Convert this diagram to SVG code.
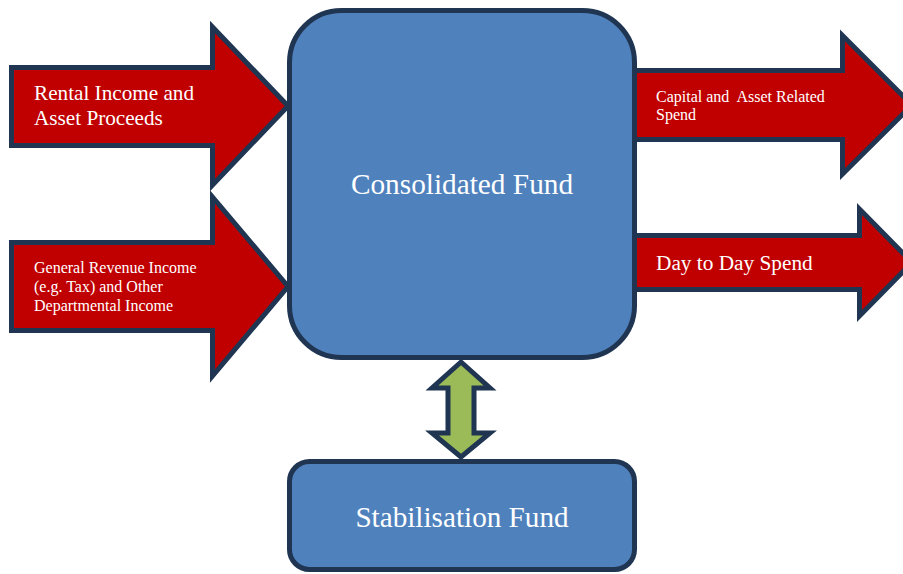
<svg xmlns="http://www.w3.org/2000/svg" width="903" height="574" viewBox="0 0 903 574">
<style>
.arrow{fill:#c00000;stroke:#1f3552;stroke-width:5;stroke-linejoin:miter}
.box{fill:#4f81bd;stroke:#1f3552;stroke-width:5}
.dbl{fill:#9bbb59;stroke:#1f3552;stroke-width:5;stroke-linejoin:miter}
text{font-family:"Liberation Serif","Times New Roman",serif;fill:#ffffff}
</style>
<rect width="903" height="574" fill="#ffffff"/>
<g id="connectors">
<g id="arrow-rental">
<path class="arrow" d="M11.5,67.5 L212.5,67.5 L212.5,27 L288,106 L212.5,185 L212.5,145.5 L11.5,145.5 Z"/>
<text x="34" y="100" font-size="21.2">Rental Income and</text>
<text x="34" y="125" font-size="21.2">Asset Proceeds</text>
</g>
<g id="arrow-general">
<path class="arrow" d="M11.5,242.5 L212.5,242.5 L212.5,197 L288,286.5 L212.5,376 L212.5,330.5 L11.5,330.5 Z"/>
<text x="34" y="273" font-size="16">General Revenue Income</text>
<text x="34" y="292" font-size="16">(e.g. Tax) and Other</text>
<text x="34" y="311" font-size="16">Departmental Income</text>
</g>
<g id="arrow-capital">
<path class="arrow" d="M633,70.5 L842.5,70.5 L842.5,35.5 L912,105 L842.5,174 L842.5,139.5 L633,139.5 Z"/>
<text x="656" y="102" font-size="16" xml:space="preserve" style="white-space:pre">Capital and  Asset Related</text>
<text x="656" y="120" font-size="16">Spend</text>
</g>
<g id="arrow-daytoday">
<path class="arrow" d="M633,235.5 L859.5,235.5 L859.5,209 L912,262.5 L859.5,316 L859.5,289.5 L633,289.5 Z"/>
<text x="656" y="270" font-size="21.3">Day to Day Spend</text>
</g>
<g id="arrow-double">
<path class="dbl" d="M461,362 L490,388 L474,388 L474,433 L490,433 L461,457 L432,433 L448,433 L448,388 L432,388 Z"/>
</g>
</g>
<g id="consolidated">
<rect class="box" x="289.5" y="10.5" width="345" height="347" rx="52" ry="52"/>
<text x="462" y="194" font-size="29.3" text-anchor="middle">Consolidated Fund</text>
</g>
<g id="stabilisation">
<rect class="box" x="289.5" y="461.5" width="345" height="108" rx="20" ry="20"/>
<text x="462" y="527" font-size="29.2" text-anchor="middle">Stabilisation Fund</text>
</g>
</svg>
